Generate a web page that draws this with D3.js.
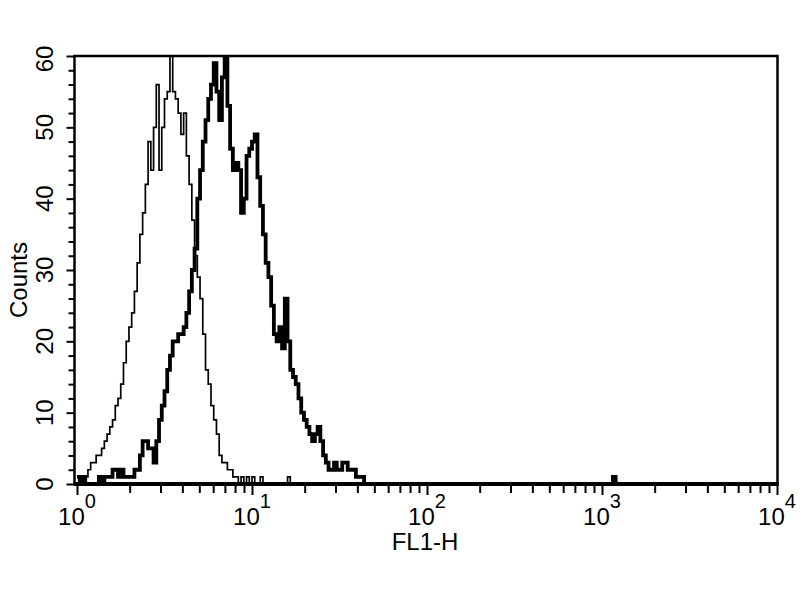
<!DOCTYPE html>
<html>
<head>
<meta charset="utf-8">
<script src="https://cdn.jsdelivr.net/npm/d3@7/dist/d3.min.js"></script>
<style>
  html, body { margin: 0; padding: 0; background: #fff; }
  svg { display: block; }
  text { font-family: "Liberation Sans", Arial, Helvetica, sans-serif; fill: #000; }
</style>
</head>
<body>
<svg id="chart" width="800" height="600"></svg>
<script>
// ---- data (FL1-H histogram, 256 channels over 4 decades) ----
const channelsPerDecade = 64;
const totalChannels = 256;
const xTickExponents = [0, 1, 2, 3, 4];
const yTickValues = [0, 10, 20, 30, 40, 50, 60];
const xLabel = "FL1-H";
const yLabel = "Counts";

// control (thin line), counts for channels 0..80
const controlCounts = [
  1, 1, 0, 1, 2, 3, 3, 4, 4, 5,
  6, 7, 8, 9, 11, 12, 14, 17, 20, 22,
  24, 27, 31, 35, 38, 42, 48, 44, 50, 56,
  44, 50, 54, 55, 60, 55, 54, 52, 49, 52,
  46, 42, 37, 32, 29, 26, 21, 16, 14, 11,
  9, 7, 4, 3, 3, 2, 2, 1, 1, 0,
  1, 0, 1, 0, 1, 0, 0, 1, 0, 0,
  0, 0, 0, 0, 0, 0, 0, 1, 0, 0,
  0
];

// stained sample (thick line), counts for channels 0..106
const sampleCounts = [
  1, 0, 1, 0, 0, 0, 0, 0, 1, 0,
  1, 1, 1, 2, 2, 1, 2, 1, 1, 1,
  1, 2, 2, 4, 6, 6, 5, 5, 3, 6,
  9, 11, 13, 16, 18, 20, 20, 21, 21, 22,
  24, 27, 30, 33, 40, 44, 48, 51, 54, 56,
  59, 55, 51, 57, 60, 53, 47, 44, 45, 44,
  38, 40, 46, 47, 48, 49, 43, 39, 35, 31,
  29, 25, 21, 20, 22, 19, 26, 20, 16, 15,
  14, 12, 10, 9, 8, 7, 6, 7, 8, 6,
  4, 3, 2, 2, 3, 2, 2, 3, 3, 2,
  2, 2, 1, 1, 1, 0, 0
];
// isolated high events of the sample
const sampleTailChannels = [196];
const sampleTailCounts = [1];

// ---- chart ----
const svg = d3.select("#chart");
const W = 800, H = 600;
const plot = { left: 74.5, right: 777.5, top: 56, bottom: 484 };

const x = d3.scaleLog().domain([1, 1e4]).range([77, 777]);
const y = d3.scaleLinear().domain([0, 60]).range([plot.bottom, plot.top]);

function fullSeries(counts, extraCh, extraCt) {
  const arr = new Array(totalChannels).fill(0);
  counts.forEach((c, i) => { arr[i] = c; });
  if (extraCh) extraCh.forEach((ch, k) => { arr[ch] = extraCt[k]; });
  const pts = arr.map((c, i) => ({ v: Math.pow(10, i / channelsPerDecade), c }));
  pts.push({ v: 1e4, c: 0 });
  return pts;
}

const line = d3.line()
  .x(d => x(d.v))
  .y(d => y(d.c))
  .curve(d3.curveStepAfter);

svg.append("rect").attr("width", W).attr("height", H).attr("fill", "#fff");

svg.append("clipPath").attr("id", "clip")
  .append("rect")
  .attr("x", plot.left).attr("y", plot.top)
  .attr("width", plot.right - plot.left).attr("height", plot.bottom - plot.top);

const g = svg.append("g").attr("clip-path", "url(#clip)");

g.append("path")
  .datum(fullSeries(controlCounts))
  .attr("d", line)
  .attr("fill", "none")
  .attr("stroke", "#000")
  .attr("stroke-width", 1.7);

g.append("path")
  .datum(fullSeries(sampleCounts, sampleTailChannels, sampleTailCounts))
  .attr("d", line)
  .attr("fill", "none")
  .attr("stroke", "#000")
  .attr("stroke-width", 3.8)
  .attr("stroke-linejoin", "miter");

// frame
svg.append("rect")
  .attr("x", plot.left).attr("y", plot.top)
  .attr("width", plot.right - plot.left).attr("height", plot.bottom - plot.top)
  .attr("fill", "none").attr("stroke", "#000").attr("stroke-width", 2.5);

svg.append("line")
  .attr("x1", plot.left - 1).attr("x2", plot.right + 1)
  .attr("y1", plot.bottom).attr("y2", plot.bottom)
  .attr("stroke", "#000").attr("stroke-width", 4);

// x axis ticks (major + minor log ticks)
const xMajors = xTickExponents.map(e => Math.pow(10, e));
const xMinors = [];
for (let e = 0; e < 4; e++) for (let m = 2; m <= 9; m++) xMinors.push(m * Math.pow(10, e));

function styleAxis(sel, w) {
  sel.select(".domain").remove();
  sel.selectAll(".tick line").attr("stroke", "#000").attr("stroke-width", w);
}

svg.append("g")
  .attr("transform", `translate(0,${plot.bottom})`)
  .call(d3.axisBottom(x).tickValues(xMajors).tickSize(11).tickSizeOuter(0).tickFormat(""))
  .call(s => styleAxis(s, 2));
svg.append("g")
  .attr("transform", `translate(0,${plot.bottom})`)
  .call(d3.axisBottom(x).tickValues(xMinors).tickSize(9).tickSizeOuter(0).tickFormat(""))
  .call(s => styleAxis(s, 2));

// y axis ticks
const yMinors = d3.range(0, 61, 2).filter(v => v % 10 !== 0);
const yAxisScale = y.copy();
svg.append("g")
  .attr("transform", `translate(${plot.left},0)`)
  .call(d3.axisLeft(yAxisScale).tickValues(yTickValues).tickSize(8).tickSizeOuter(0).tickFormat(""))
  .call(s => styleAxis(s, 2));
svg.append("g")
  .attr("transform", `translate(${plot.left},0)`)
  .call(d3.axisLeft(yAxisScale).tickValues(yMinors).tickSize(6).tickSizeOuter(0).tickFormat(""))
  .call(s => styleAxis(s, 2));

// x tick labels 10^n
xTickExponents.forEach(e => {
  const t = svg.append("text")
    .attr("x", x(Math.pow(10, e)))
    .attr("y", 525)
    .attr("text-anchor", "middle")
    .attr("font-size", 24);
  t.append("tspan").text("10");
  t.append("tspan").attr("dy", -17).attr("font-size", 20).text(String(e));
});

// y tick labels (rotated)
yTickValues.forEach(v => {
  svg.append("text")
    .attr("transform", `translate(53,${y(v) + (v === 60 ? 3 : 0)}) rotate(-90)`)
    .attr("text-anchor", "middle")
    .attr("font-size", 24)
    .text(v);
});

// axis titles
svg.append("text")
  .attr("x", 425).attr("y", 550)
  .attr("text-anchor", "middle")
  .attr("font-size", 24)
  .text(xLabel);

svg.append("text")
  .attr("transform", "translate(27,280) rotate(-90)")
  .attr("text-anchor", "middle")
  .attr("font-size", 24)
  .text(yLabel);
</script>
</body>
</html>
